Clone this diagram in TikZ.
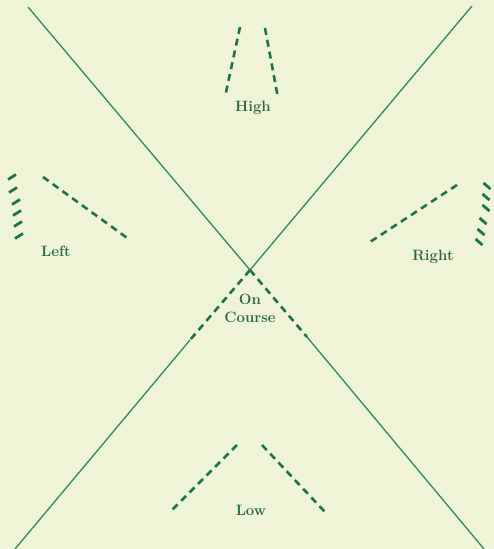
\documentclass[tikz,border=0pt]{standalone}
\definecolor{bgc}{HTML}{EFF4D6}
\definecolor{linec}{HTML}{2F8A5C}
\definecolor{dashc}{HTML}{1E7448}
\definecolor{textc}{HTML}{2A6A48}
\tikzset{
  guide/.style={draw=linec, line width=1.3bp},
  dashseg/.style={draw=dashc, line width=2.6bp, dash pattern=on 7bp off 5bp},
  hatch/.style={draw=dashc, line width=2.8bp},
  lbl/.style={text=textc, font=\fontsize{15bp}{16bp}\selectfont\bfseries, inner sep=0pt, align=center},
}
\begin{document}
\begin{tikzpicture}[x=1bp,y=-1bp]
\fill[bgc] (0,0) rectangle (494,549);
\useasboundingbox (0,0) rectangle (494,549);
% main cross
\coordinate (TL) at (28,7);
\coordinate (TR) at (472,6);
\coordinate (BL) at (15,549);
\coordinate (BR) at (484,549);
\coordinate (C) at (250,270);
\coordinate (CL) at (190,340);
\coordinate (CR) at (307,337);
\draw[guide] (TL) -- (C);
\draw[guide] (TR) -- (C);
\draw[guide] (CL) -- (BL);
\draw[guide] (CR) -- (BR);
\draw[dashseg] (C) -- (CL);
\draw[dashseg] (C) -- (CR);
% High
\coordinate (h1a) at (240,27); \coordinate (h1b) at (225,97);
\coordinate (h2a) at (265,28); \coordinate (h2b) at (278,98);
\draw[dashseg] (h1a) -- (h1b);
\draw[dashseg] (h2a) -- (h2b);
% Low
\coordinate (l1a) at (237,445); \coordinate (l1b) at (172,510);
\coordinate (l2a) at (262,445); \coordinate (l2b) at (325,512);
\draw[dashseg] (l1a) -- (l1b);
\draw[dashseg] (l2a) -- (l2b);
% Left diagonal
\coordinate (ld1) at (43,177); \coordinate (ld2) at (130,240);
\draw[dashseg] (ld1) -- (ld2);
% Right diagonal
\coordinate (rd1) at (457,185); \coordinate (rd2) at (370,242);
\draw[dashseg] (rd1) -- (rd2);
% left hatch marks
\foreach \x/\y in {12/177,13/190,16/202,17/213,18/224,19/236}{
  \draw[hatch] (\x-4,\y+2.5) -- (\x+4,\y-2.5);
}
% right hatch marks
\foreach \x/\y in {487/186,486/197,486/208,483/221,481/232,479/242}{
  \draw[hatch] (\x-3.5,\y-3) -- (\x+3.5,\y+3);
}
% labels
\node[lbl] (high) at (253,108) {High};
\node[lbl] (left) at (56,251) {Left};
\node[lbl] (right) at (433,257) {Right};
\node[lbl] (on) at (250,299) {On};
\node[lbl] (course) at (250,317) {Course};
\node[lbl] (low) at (251,510) {Low};
\end{tikzpicture}
\end{document}
